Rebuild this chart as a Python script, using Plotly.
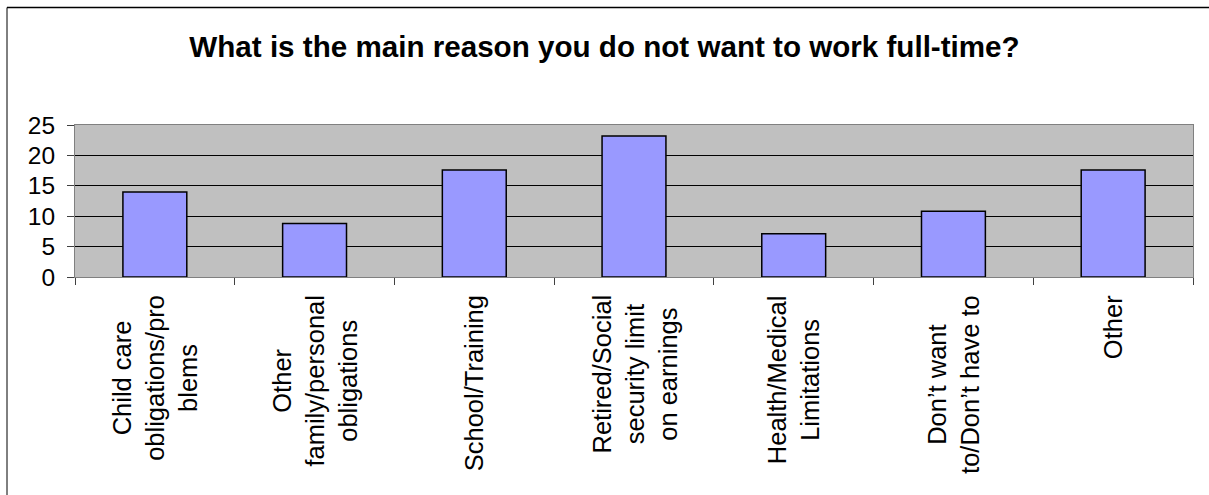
import plotly.graph_objects as go

categories = [
    "Child care obligations/problems",
    "Other family/personal obligations",
    "School/Training",
    "Retired/Social security limit on earnings",
    "Health/Medical Limitations",
    "Don’t want to/Don’t have to",
    "Other",
]
tick_labels = [
    "Child care<br>obligations/pro<br>blems",
    "Other<br>family/personal<br>obligations",
    "School/Training",
    "Retired/Social<br>security limit<br>on earnings",
    "Health/Medical<br>Limitations",
    "Don’t want<br>to/Don’t have to",
    "Other",
]
values = [14.0, 8.8, 17.6, 23.2, 7.1, 10.8, 17.6]
y_ticks = [0, 5, 10, 15, 20, 25]

FONT = "Liberation Sans, Arial, sans-serif"

fig = go.Figure(
    go.Bar(
        x=categories,
        y=values,
        marker=dict(color="#9999FF", line=dict(color="black", width=1.5)),
        hoverinfo="x+y",
    )
)

annotations = []
for cat, lab in zip(categories, tick_labels):
    annotations.append(
        dict(
            x=cat, xref="x", y=0, yref="paper", yshift=-16,
            text=lab, textangle=-90, xanchor="center", yanchor="top",
            align="center", showarrow=False,
            font=dict(family=FONT, size=25.5, color="black"),
        )
    )

fig.update_layout(
    width=1209, height=495,
    margin=dict(l=75, r=16, t=125, b=218),
    paper_bgcolor="white",
    plot_bgcolor="#C0C0C0",
    bargap=0.6,
    showlegend=False,
    title=dict(
        text="<b>What is the main reason you do not want to work full-time?</b>",
        x=0.5, xref="container", xanchor="center",
        y=1 - 47 / 495, yref="container", yanchor="middle",
        font=dict(family=FONT, size=29.6, color="black"),
    ),
    annotations=annotations,
    shapes=[
        dict(type="line", xref="paper", yref="paper",
             x0=(7 - 75) / 1118, x1=(1215 - 75) / 1118, y0=(277 - 7.5) / 152, y1=(277 - 7.5) / 152,
             line=dict(color="black", width=1.5)),
        dict(type="line", xref="paper", yref="paper",
             x0=(7 - 75) / 1118, x1=(7 - 75) / 1118, y0=(277 - 7.5) / 152, y1=-2,
             line=dict(color="black", width=1)),
    ],
)

fig.update_xaxes(
    type="category",
    showticklabels=False,
    ticks="outside", tickson="boundaries", ticklen=7, tickcolor="#404040",
    showgrid=False,
    showline=True, linecolor="#808080", linewidth=1, mirror=True,
)
fig.update_yaxes(
    range=[0, 25],
    tickvals=y_ticks,
    ticks="outside", ticklen=7, tickcolor="#404040",
    ticklabelstandoff=7,
    tickfont=dict(family=FONT, size=24.5, color="black"),
    showgrid=True, gridcolor="black", gridwidth=1,
    zeroline=True, zerolinecolor="black", zerolinewidth=1,
    showline=True, linecolor="#808080", linewidth=1, mirror=True,
)

fig.write_html("out.html")
